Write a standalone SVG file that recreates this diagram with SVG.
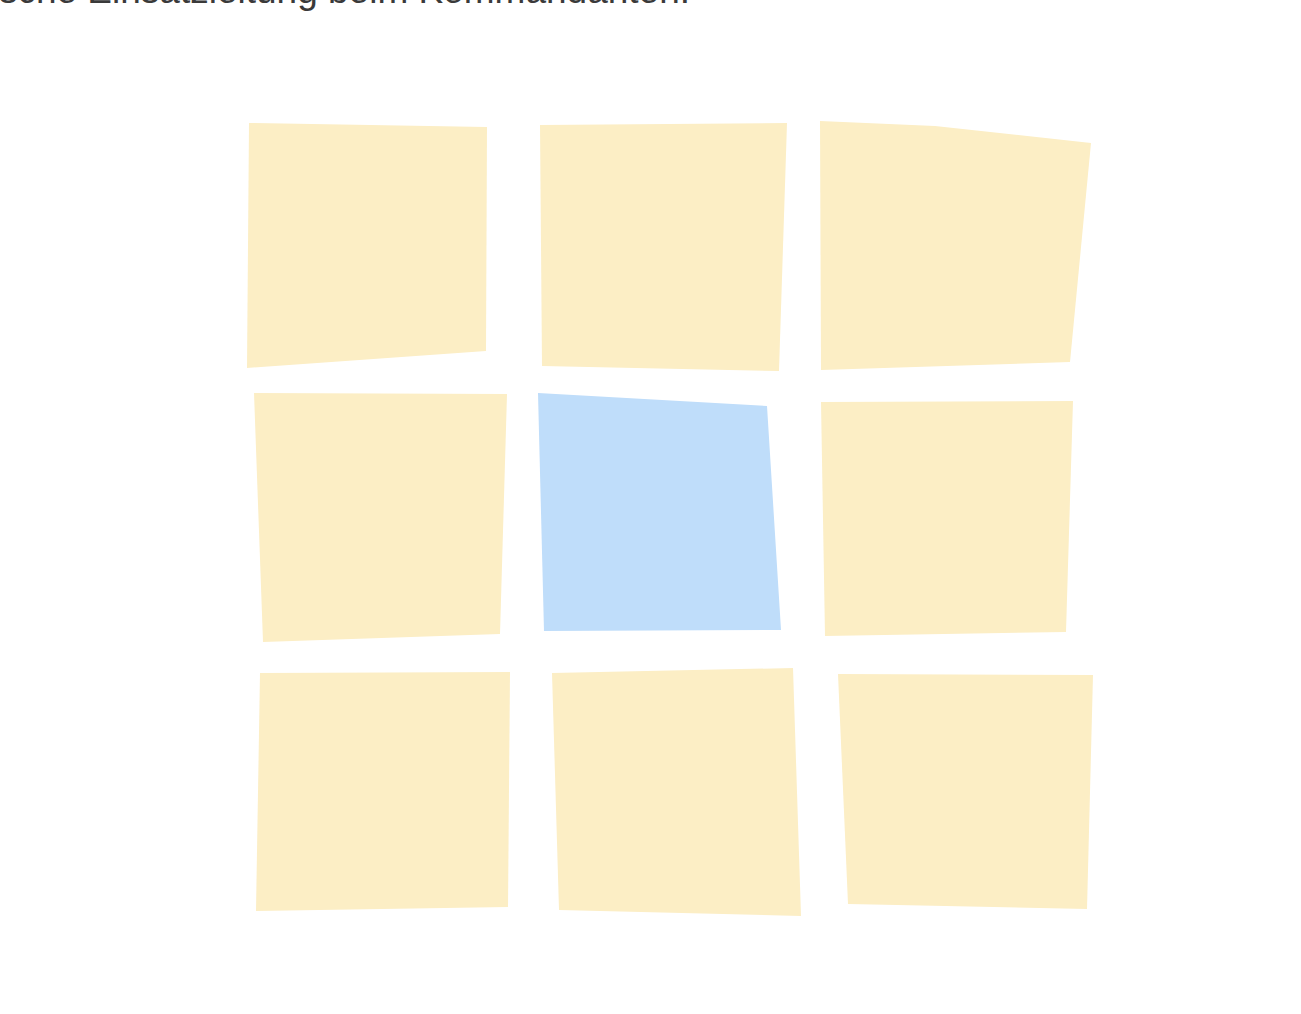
<svg xmlns="http://www.w3.org/2000/svg" width="1301" height="1014" viewBox="0 0 1301 1014">
<style>
.y{fill:#FCEEC5}
.b{fill:#BFDDFA}
.t{font-family:"Liberation Sans",Arial,sans-serif;font-size:37px;fill:#3a3a3a}
</style>
<rect width="1301" height="1014" fill="#ffffff"/>
<text class="t" x="690" y="3" text-anchor="end">sche Einsatzleitung beim Kommandanten.</text>
<g id="n1"><polygon class="y" points="249,123 487,127 486,351 247,368"/></g>
<g id="n2"><polygon class="y" points="540,125 787,123 779,371 542,366"/></g>
<g id="n3"><polygon class="y" points="820,121 935,126 1091,143 1070,362 821,370"/></g>
<g id="n4"><polygon class="y" points="254,393 507,394 500,634 263,642"/></g>
<g id="n5"><polygon class="b" points="538,393 767,406 781,630 544,631"/></g>
<g id="n6"><polygon class="y" points="821,402 1073,401 1066,632 825,636"/></g>
<g id="n7"><polygon class="y" points="260,673 510,672 508,907 256,911"/></g>
<g id="n8"><polygon class="y" points="552,673 793,668 801,916 559,910"/></g>
<g id="n9"><polygon class="y" points="838,674 1093,675 1087,909 848,904"/></g>
<g id="connectors"></g>
</svg>
